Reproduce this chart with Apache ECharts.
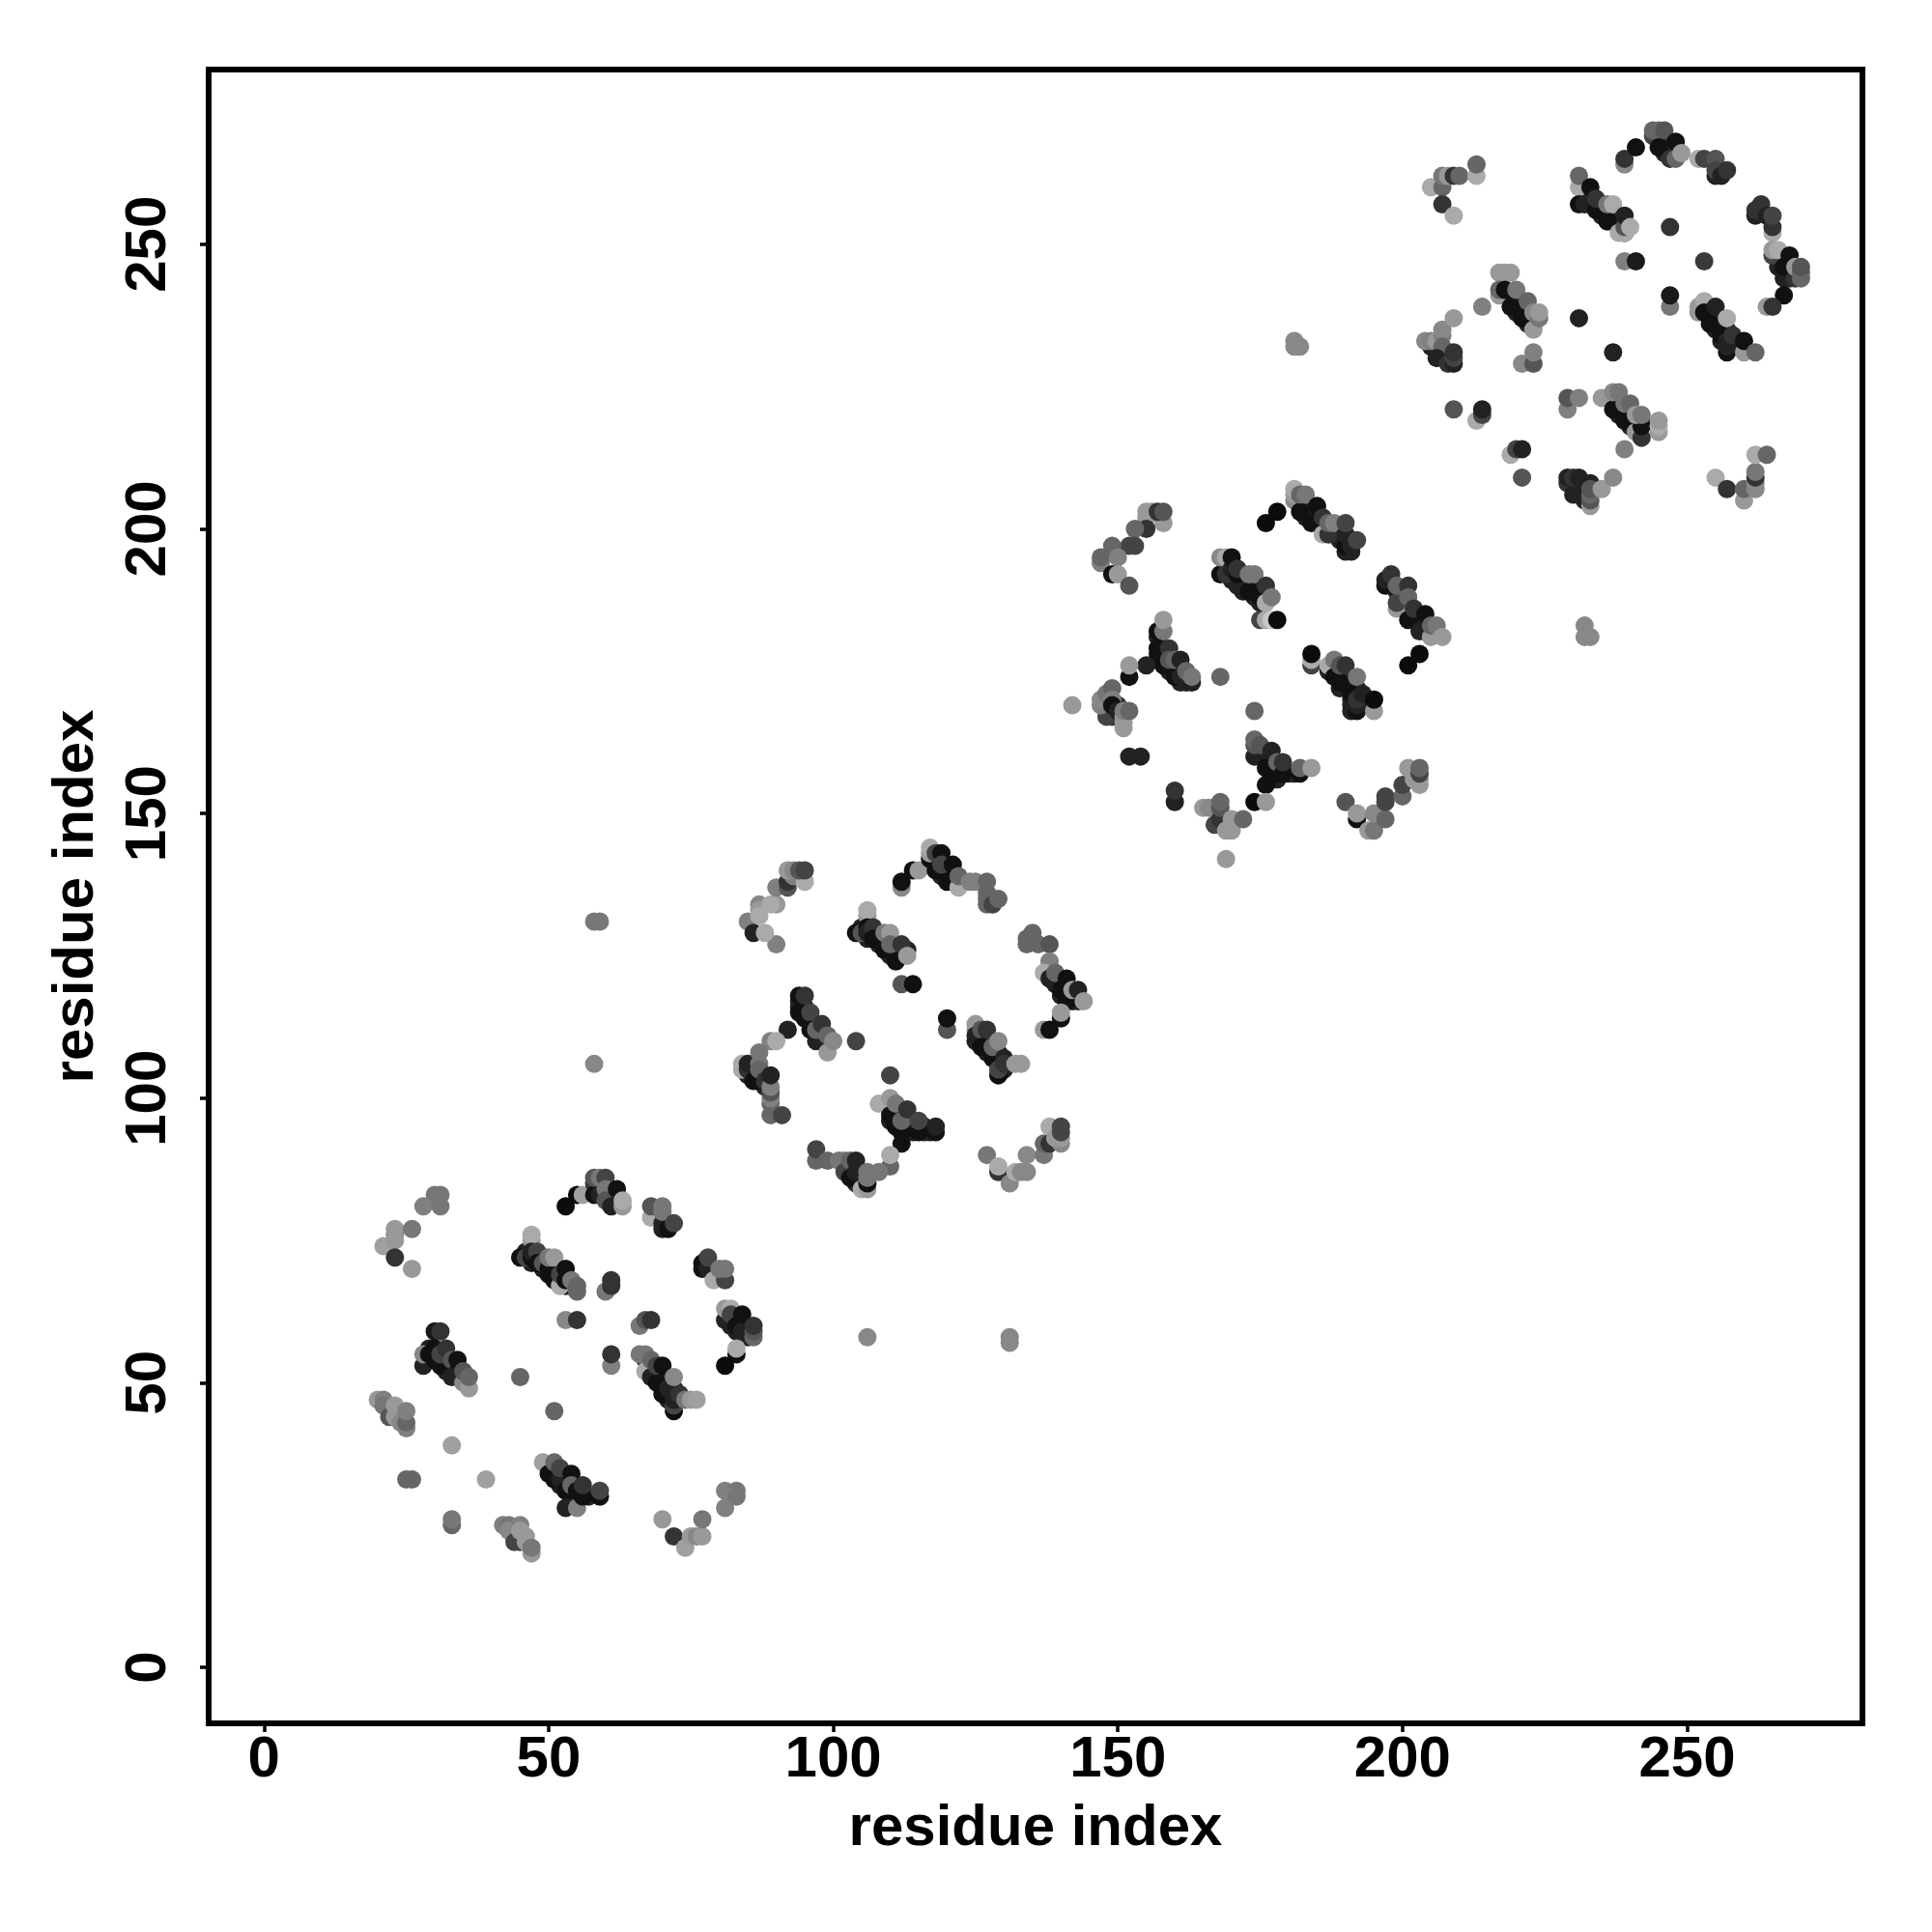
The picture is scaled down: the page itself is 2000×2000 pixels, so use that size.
<!DOCTYPE html>
<html><head><meta charset="utf-8">
<style>html,body{margin:0;padding:0;background:#fff}#c{width:2000px;height:2000px}</style>
<script src="https://cdn.jsdelivr.net/npm/echarts@6/dist/echarts.min.js"></script>
</head><body><div id="c"></div>
<script>
const tickValues = [0, 50, 100, 150, 200, 250];
const axisTitle = 'residue index';
// each entry: [residue i, residue j, grey level]
const strandCores = [
[29,56,34],[30,55,34],[31,54,34],[32,54,34],[32,52,34],[33,53,34],[34,51,34],[35,51,34],
[46,73,34],[47,71,34],[48,72,34],[49,70,34],[49,72,34],[50,71,34],[51,69,34],[51,70,34],[52,68,34],[53,67,34],[54,67,34],[52,70,34],
[67,54,34],[68,53,34],[68,52,34],[69,52,34],[69,51,34],[70,50,34],[70,49,34],[71,48,34],[71,50,34],[72,48,34],[72,49,34],[71,47,34],
[50,35,34],[51,34,34],[52,32,34],[53,32,34],[53,33,34],[54,31,34],[54,30,34],[55,30,34],[55,32,34],[57,30,34],[56,31,34],
[82,60,34],[83,59,34],[84,58,34],[84,60,34],[85,59,34],[85,60,34],[82,61,34],
[22,45,68],[23,45,68],[24,44,68],[44,24,68],[44,23,68],[45,23,68],[45,22,68],
[59,84,34],[59,85,34],[60,83,34],[61,83,34],[60,85,34],[61,82,34],
[105,130,34],[106,128,34],[107,129,34],[108,127,34],[108,128,34],[109,127,34],[110,125,34],[110,126,34],[111,125,34],[112,125,34],[112,126,34],[111,126,34],[113,126,34],
[94,117,34],[94,116,34],[95,115,34],[95,116,34],[96,114,34],[96,113,34],[97,113,34],[97,111,34],[98,111,34],[98,110,34],[98,112,34],[99,110,34],
[110,98,34],[110,96,34],[111,97,34],[111,96,34],[112,95,34],[113,95,34],[113,94,34],[114,94,34],[113,96,34],[114,95,34],[114,96,34],[116,94,34],[116,95,34],[117,94,34],[112,97,34],
[125,110,34],[126,110,34],[126,111,34],[127,109,34],[127,110,34],[127,108,34],[128,108,34],[129,107,34],[129,106,34],[129,108,34],[130,105,34],
[85,104,34],[86,104,34],[87,103,34],[86,105,34],[88,102,34],[87,104,34],
[139,120,34],[139,121,34],[140,118,34],[140,120,34],[141,118,34],[142,118,34],[141,119,34],[142,117,34],[143,117,34],
[118,141,34],[118,142,34],[119,140,34],[119,139,34],[120,140,34],[120,139,34],[121,138,34],[121,139,34],[117,141,34],
[102,88,34],[103,87,34],[103,88,34],[104,86,34],[104,85,34],[105,85,34],[105,86,34],[105,87,34],
[169,193,34],[169,194,34],[170,192,34],[170,191,34],[171,191,34],[171,190,34],[172,190,34],[172,191,34],[172,189,34],[173,190,34],[174,188,34],[174,189,34],[175,187,34],[175,189,34],[176,188,34],[176,189,34],
[157,181,34],[157,178,34],[158,178,34],[158,177,34],[159,176,34],[159,175,34],[160,175,34],[160,176,34],[161,175,34],[161,173,34],[162,174,34],[162,173,34],[163,173,34],
[187,175,34],[188,175,34],[189,174,34],[189,172,34],[190,173,34],[190,172,34],[191,170,34],[191,172,34],[191,169,34],[191,168,34],[192,171,34],[192,172,34],[193,170,34],[193,169,34],
[175,161,34],[175,160,34],[176,160,34],[176,159,34],[177,159,34],[177,158,34],[177,157,34],[178,158,34],[179,158,34],[180,157,34],[181,157,34],[178,156,34],[177,156,34],
[198,191,34],[198,190,34],[199,189,34],[200,187,34],[200,186,34],[201,186,34],[201,185,34],[202,185,34],[202,184,34],[203,184,34],[203,183,34],[204,183,34],[204,182,34],
[182,204,34],[182,205,34],[183,203,34],[183,202,34],[184,203,34],[184,202,34],[185,201,34],[185,202,34],[186,200,34],[186,201,34],[191,198,34],[191,196,34],[190,196,34],[189,198,34],
[148,168,51],[148,169,51],[149,168,51],[149,167,51],[150,169,51],[150,167,51],
[232,258,34],[232,259,34],[233,258,34],[233,257,34],[234,257,34],[235,256,34],[235,255,34],[235,257,34],[236,255,34],[237,254,34],[237,255,34],[238,253,34],[238,254,34],[239,252,34],
[218,241,34],[219,240,34],[220,239,34],[220,238,34],[221,238,34],[222,238,34],[222,237,34],[223,237,34],[222,236,34],[223,236,34],
[253,239,34],[254,237,34],[254,238,34],[255,236,34],[255,235,34],[256,235,34],[257,234,34],[257,235,34],[256,233,34],[258,232,34],[258,233,34],[259,233,34],
[237,222,34],[237,223,34],[238,220,34],[238,221,34],[239,221,34],[240,219,34],[240,218,34],[241,218,34],[241,219,34],[242,219,34],[240,220,34],
[266,247,34],[266,246,34],[267,245,34],[268,245,34],[268,246,34],[269,245,34],[267,244,34],[268,244,34],
[245,268,34],[245,269,34],[246,267,34],[246,266,34],[247,266,34],[246,268,34],[247,267,34],
[230,208,34],[231,207,34],[231,208,34],[232,207,34],[232,206,34],[232,205,34],[233,208,34],
[205,232,34],[206,231,34],[207,231,34],[207,230,34],[208,230,34],[208,231,34]
];
const block1 = [
[30,83,119],[31,83,119],[28,81,128],[31,81,119],[23,76,136],[23,77,153],[26,77,119],[21,74,160],[23,75,153],[23,72,51],[26,70,153],
[53,81,12],[55,83,12],[56,83,160],[58,85,51],[58,83,17],[59,83,34],[58,86,85],[59,86,119],[60,86,68],[60,84,119],[60,82,85],[62,84,17],[61,81,34],[63,81,153],[63,82,170],
[68,79,170],[68,81,85],[70,78,34],[70,77,34],[71,77,17],[70,80,119],[70,81,119],[72,78,68],
[77,71,17],[77,70,17],[78,70,34],[78,72,68],[79,68,170],[81,68,68],[80,70,119],[81,70,119],
[81,61,34],[81,63,153],[82,63,170],[82,62,68],[83,60,17],[84,59,34],[85,58,34],[86,58,102],[84,62,17],[86,59,85],[86,60,51],[83,55,17],[83,56,170],[81,53,12],
[47,75,153],[47,76,170],[45,72,17],[46,72,68],[47,72,17],[47,73,34],[48,73,68],[48,71,17],[49,71,85],[50,70,17],[50,69,17],[51,68,17],[52,67,170],[50,72,119],[51,72,153],[52,69,68],[53,70,17],[53,68,17],[54,68,119],[55,66,102],[55,67,102],
[60,66,119],[61,67,51],[61,68,51],[53,61,136],[55,61,51],[66,60,119],[67,61,85],[68,61,51],[61,53,128],[61,55,51],
[45,51,102],[51,45,102],[33,39,160],[39,33,160],[25,33,102],[26,33,102],[33,25,102],[33,26,119],
[28,53,34],[28,55,136],[30,59,24],[31,59,51],[29,55,17],[30,54,17],[30,56,17],[31,53,17],[31,55,68],[32,56,51],[33,51,34],[33,54,85],[34,52,34],[34,54,17],[35,50,136],[35,52,85],[36,49,153],[36,51,102],
[66,55,119],[67,55,119],[67,52,170],[68,51,34],[68,54,102],[69,50,17],[69,53,68],[70,53,17],[70,48,17],[71,49,34],[72,45,12],[72,46,68],[72,47,34],[73,48,51],[72,51,136],[74,47,119],[75,47,153],[76,47,160],
[20,47,153],[21,47,128],[21,46,119],[22,44,85],[23,44,153],[23,46,153],[24,43,136],[25,42,128],[25,43,102],[25,45,128],
[49,36,160],[50,34,17],[51,33,17],[51,36,102],[52,33,34],[52,35,68],[53,31,17],[54,34,17],[54,32,102],[53,28,34],[55,28,128],[55,31,17],[56,30,17],[56,32,51],[59,30,17],[59,31,68],
[42,25,128],[43,25,119],[43,24,136],[44,22,68],[45,25,128],[45,24,153],[46,23,153],[46,22,153],[47,20,153],[47,21,119],
[70,26,153],[72,23,51],[74,21,160],[75,23,153],[76,23,136],[77,23,153],[77,26,119],[81,28,128],[81,31,128],[83,31,119],[82,30,128],[83,30,119],
[58,131,119],[59,131,119],[58,106,136],[106,58,136],[131,57,136],[131,58,136]
];
const block2 = [
[90,127,128],[85,131,128],[86,129,34],[88,129,170],[87,134,136],[87,133,153],[87,132,170],[90,134,153],[89,134,170],[90,137,128],[92,137,85],[92,138,51],[93,139,128],[95,138,170],[92,140,153],[93,140,136],[94,140,85],[95,140,68],
[112,137,136],[112,138,17],[114,140,17],[115,140,153],[117,142,17],[117,143,153],[117,144,170],[118,143,68],[119,143,17],[118,140,17],[119,141,68],[120,138,17],[122,137,170],[121,141,17],[122,139,102],[124,138,128],[125,138,128],[127,134,102],[127,135,102],[127,136,102],[127,138,102],[128,134,68],[129,135,102],
[134,127,102],[134,128,102],[135,129,102],[136,127,102],[138,127,85],[138,123,119],[138,124,128],[137,122,170],[138,121,34],[139,122,102],[140,119,17],[141,117,17],[141,121,17],[142,119,153],[143,119,34],[144,117,153],[140,114,17],[140,115,153],[137,112,153],[138,112,17],
[106,132,153],[106,133,170],[104,129,17],[105,129,85],[106,130,17],[106,129,34],[107,130,51],[107,128,17],[109,126,17],[109,129,119],[110,129,153],[111,124,17],[110,127,102],[112,127,51],[113,125,153],
[112,120,85],[114,120,17],[120,112,85],[120,114,17],[104,110,68],[110,104,68],
[94,118,17],[95,118,51],[94,115,17],[95,114,17],[96,115,68],[96,112,17],[97,110,34],[97,112,102],[98,113,51],[99,108,153],[99,111,102],[100,110,136],[92,112,34],[89,110,128],[90,110,170],
[84,105,170],[84,106,170],[85,105,51],[85,106,34],[86,103,17],[87,108,119],[87,106,119],[87,105,102],[88,103,51],[89,97,102],[89,99,102],[89,100,128],[89,101,85],[89,102,128],[89,104,34],[91,97,68],
[108,99,170],[110,97,17],[110,100,153],[111,95,17],[111,99,119],[112,94,17],[112,96,102],[113,98,51],[115,94,17],[115,96,68],[118,94,17],[118,95,34],[112,92,17],[110,88,102],[110,90,170],
[97,89,102],[97,91,68],[99,89,102],[101,89,119],[102,89,119],[102,87,68],[103,89,102],[103,86,17],[104,87,34],[104,89,34],[105,84,170],[106,84,153],[106,85,17],[106,86,119],[106,87,119],[108,87,119],
[127,90,119],[129,87,51],[129,88,170],[131,85,136],[132,87,170],[133,87,136],[134,87,136],[134,90,136],[137,90,119],[137,92,102],[138,92,51],[138,95,170],[140,92,136],[139,93,153],[140,93,153],[140,94,68],[140,95,68],
[125,113,153],[125,112,153],[125,111,34],[126,112,85],[127,112,51],[126,109,17],[128,107,17],[128,109,102],[129,110,136],[130,107,34],[129,104,12],[129,105,68],[130,106,51],[132,106,153],[133,106,153]
];
const block3 = [
[158,201,153],[155,203,153],[156,203,153],[155,202,153],[157,203,51],[158,203,85],[155,200,51],[153,200,102],[152,197,68],[153,197,68],[149,196,102],[149,197,102],[147,194,128],[147,195,102],[150,195,128],[149,192,17],[150,192,153],[152,190,85],
[176,201,12],[178,203,12],[181,205,136],[181,206,153],[181,207,170],[182,203,17],[182,206,102],[183,206,119],[185,204,17],[184,201,17],[186,199,170],[186,202,51],[187,199,51],[187,201,102],[188,201,128],[190,197,17],[191,197,34],[190,199,34],[190,201,68],[192,198,68],
[197,190,17],[197,191,34],[198,192,51],[199,186,153],[199,187,68],[199,190,102],[201,190,51],[201,188,102],[201,184,17],[202,186,51],[203,182,34],[204,185,17],[205,181,153],[205,183,102],[206,183,119],[207,181,153],[203,178,12],[201,176,12],
[168,192,17],[169,192,51],[168,195,136],[169,195,170],[170,193,34],[170,195,17],[171,192,17],[171,193,51],[173,189,17],[173,192,119],[174,192,119],[175,188,17],[176,190,51],[176,187,170],[177,188,119],[175,184,68],[176,184,170],[177,184,200],[178,184,12],
[157,182,17],[158,182,119],[158,184,153],[157,179,17],[157,177,17],[158,176,17],[159,179,51],[159,177,85],[155,176,34],[152,174,17],[152,176,153],[160,174,17],[160,177,102],[161,174,34],[161,177,34],[162,175,102],[163,174,119],
[168,174,102],[174,168,102],[142,169,153],[152,160,34],[154,160,34],[160,152,34],[160,154,51],
[181,232,136],[182,232,136],[181,233,136],[232,181,136],[233,181,136],[232,183,136],
[148,167,68],[147,169,128],[147,170,136],[148,171,119],[149,172,102],[149,170,128],[149,169,17],[150,168,34],[151,165,153],[151,166,153],[151,167,153],[151,168,128],[152,168,102],
[174,160,34],[174,162,85],[174,163,102],[175,162,85],[176,158,17],[177,161,34],[178,157,17],[178,159,102],[179,157,17],[179,159,51],[182,157,17],[182,158,102],[184,158,153],[176,155,17],[174,152,12],[176,152,153],
[165,151,153],[166,151,136],[167,148,68],[168,149,51],[168,151,85],[168,152,102],[169,147,153],[170,147,153],[170,149,153],[172,149,102],[169,142,153],
[190,152,85],[192,149,17],[192,150,153],[194,147,153],[195,147,119],[195,150,136],[197,149,102],[197,152,68],[197,153,68],[200,153,102],[200,155,68],[201,158,153],[202,156,153],[203,155,153],[203,156,153],[203,157,68],[203,158,102],
[184,176,68],[184,177,170],[184,178,12],[187,176,170],[188,174,17],[188,177,119],[189,173,17],[189,176,85],[190,176,51],[191,171,17],[192,168,17],[192,169,34],[192,170,51],[192,174,119],[193,171,34],[195,168,153],[195,170,12]
];
const block4 = [
[205,260,170],[207,260,102],[207,262,119],[208,262,153],[209,262,51],[210,262,102],[213,262,170],[213,264,102],[207,257,51],[209,255,170],
[239,264,136],[239,265,51],[241,267,17],[244,269,68],[244,270,102],[245,270,102],[246,270,85],[245,267,17],[247,265,51],[248,265,102],[248,268,17],[249,266,153],[252,265,170],[253,265,68],[255,265,85],[255,262,34],[255,263,68],[256,262,34],[257,263,51],
[262,255,34],[262,256,51],[263,257,51],[264,255,34],[265,252,170],[265,253,51],[265,255,68],[265,248,68],[265,249,153],[266,249,170],[267,246,17],[268,248,17],[269,244,51],[269,246,153],[270,244,102],[270,245,102],[270,246,85],[267,241,17],[264,239,153],[265,239,51],
[231,260,170],[231,262,102],[231,257,17],[232,257,34],[233,260,17],[234,256,17],[234,258,51],[236,254,17],[236,257,119],[237,257,170],[238,252,170],[239,252,170],[239,253,85],[239,255,34],[240,253,170],
[239,247,128],[241,247,26],[247,253,51],[253,247,58],[247,239,119],[247,241,26],[231,237,34],[237,231,34],
[217,245,153],[218,245,153],[219,245,153],[217,241,153],[217,242,102],[218,242,17],[219,239,17],[220,242,119],[221,237,17],[222,240,102],[223,235,153],[223,238,136],[224,237,119],[224,238,153],[214,239,128],
[204,233,136],[205,233,128],[206,233,153],[207,234,128],[207,235,136],[209,237,153],[207,232,102],[206,230,34],[208,229,51],[209,229,34],[209,230,68],[209,231,51],
[221,229,136],[223,229,85],[223,231,128],[209,221,85],[213,219,170],[214,220,68],[214,221,34],[219,213,170],[220,214,68],[221,214,34],[221,209,85],
[229,221,128],[229,223,85],[231,223,128],[235,223,153],[237,221,17],[237,224,136],[238,224,119],[239,219,17],[239,222,119],[240,222,102],[241,217,153],[242,216,51],[242,218,17],[241,220,153],[242,220,119],[245,217,153],[245,218,170],[245,219,153],[239,214,128],
[229,208,51],[229,209,34],[230,206,34],[230,209,51],[231,209,34],[233,204,153],[233,205,85],[233,206,102],[233,207,85],[235,207,153],[237,209,136],
[255,209,170],[257,207,51],[260,205,153],[260,207,102],[262,207,136],[262,208,136],[262,209,51],[262,210,119],[262,213,170],[264,213,102],
[252,238,153],[252,239,153],[253,240,170],[253,238,17],[254,236,17],[255,239,34],[256,234,17],[257,231,17],[257,232,34],[257,233,34],[257,237,170],[258,234,51],[260,231,153],[260,233,17],[262,231,102]
];
const contacts = [...strandCores, ...block1, ...block2, ...block3, ...block4];
const labelFont = {fontFamily:'Liberation Sans', fontWeight:'bold', fontSize:60, color:'#000'};
const axisBase = {
  type:'value', name:axisTitle, nameLocation:'middle',
  nameTextStyle:{fontFamily:'Liberation Sans', fontWeight:'bold', fontSize:60, color:'#000'},
  splitLine:{show:false}, axisLine:{show:false, onZero:false},
  axisTick:{show:true, length:9, lineStyle:{color:'#000', width:3.5}, customValues:tickValues}
};
const chart = echarts.init(document.getElementById('c'), null, {renderer:'canvas'});
chart.setOption({
  animation:false, backgroundColor:'#fff',
  grid:{left:216, top:72, width:1712, height:1712, show:true, borderColor:'#000', borderWidth:6, backgroundColor:'transparent'},
  xAxis:{...axisBase, min:-9.72, max:280.8, nameGap:79,
    axisLabel:{...labelFont, margin:8, customValues:tickValues, hideOverlap:false}},
  yAxis:{...axisBase, min:-9.84, max:280.68, nameRotate:90, nameGap:107,
    axisLabel:{...labelFont, margin:32, rotate:90, customValues:tickValues, hideOverlap:false}},
  series:[{type:'scatter', data:contacts, symbol:'circle', symbolSize:19, clip:false,
    encode:{x:0,y:1}, emphasis:{disabled:true}, progressive:0, large:false,
    itemStyle:{opacity:1, color:p=>{const g=p.data[2];return `rgb(${g},${g},${g})`;}}}]
});
</script></body></html>
